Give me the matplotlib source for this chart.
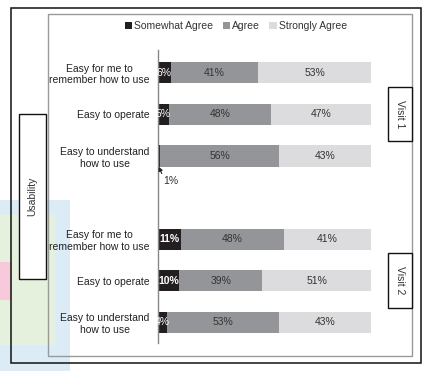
import matplotlib
matplotlib.use("Agg")
import matplotlib.pyplot as plt
from matplotlib.patches import Rectangle
import numpy as np

plt.rcParams['font.family'] = ['Liberation Sans', 'DejaVu Sans']

categories = ["Easy for me to\nremember how to use", "Easy to operate", "Easy to understand\nhow to use",
              "Easy for me to\nremember how to use", "Easy to operate", "Easy to understand\nhow to use"]
positions = [0, 1, 2, 4, 5, 6]
somewhat = [6, 5, 1, 11, 10, 4]
agree = [41, 48, 56, 48, 39, 53]
strongly = [53, 47, 43, 41, 51, 43]
series_names = ["Somewhat Agree", "Agree", "Strongly Agree"]
colors = ["#231f20", "#939598", "#dcdcde"]

W, H = 435, 371
fig = plt.figure(figsize=(W / 100, H / 100), dpi=100)

def fr(x0, y0, x1, y1, **kw):
    return Rectangle((x0 / W, 1 - y1 / H), (x1 - x0) / W, (y1 - y0) / H,
                     transform=fig.transFigure, **kw)

# faint background bleed
fig.patches.append(fr(0, 200, 70, 371, facecolor="#dcecf7", edgecolor="none", zorder=0))
fig.patches.append(fr(0, 215, 55, 345, facecolor="#e6f1dd", edgecolor="none", zorder=0))
fig.patches.append(fr(0, 262, 12, 300, facecolor="#f7cadb", edgecolor="none", zorder=0))
# frames
fig.patches.append(fr(11, 8, 421, 363, facecolor="none", edgecolor="#111111", lw=1.1, zorder=1))
fig.patches.append(fr(48, 14, 412, 356, facecolor="none", edgecolor="#999999", lw=1.0, zorder=1))
fig.patches.append(fr(19, 114, 46, 279, facecolor="white", edgecolor="#111111", lw=1.0, zorder=2))
fig.patches.append(fr(388, 87, 412, 141, facecolor="white", edgecolor="#111111", lw=1.0, zorder=2))
fig.patches.append(fr(388, 253, 412, 308, facecolor="white", edgecolor="#111111", lw=1.0, zorder=2))
fig.text(32.5 / W, 1 - 196.5 / H, "Usability", rotation=90, ha="center", va="center",
         fontsize=7.5, color="#333333", zorder=3)
fig.text(400 / W, 1 - 114 / H, "Visit 1", rotation=270, ha="center", va="center",
         fontsize=7.5, color="#333333", zorder=3)
fig.text(400 / W, 1 - 280.5 / H, "Visit 2", rotation=270, ha="center", va="center",
         fontsize=7.5, color="#333333", zorder=3)

ax = fig.add_axes([158 / W, 1 - 343 / H, 213 / W, 293 / H])
ax.patch.set_alpha(0)
ax.set_zorder(5)

pos = np.array(positions, dtype=float)
left = np.zeros(len(pos))
bars = []
for vals, name, c in zip([somewhat, agree, strongly], series_names, colors):
    b = ax.barh(pos, vals, left=left, height=0.51, color=c, label=name)
    bars.append(b)
    for p, v, l in zip(pos, vals, left):
        if name == "Somewhat Agree":
            if v >= 2:
                ax.text(l + v / 2, p, f"{v}%", ha="center", va="center", fontsize=7.5,
                        color="white", fontweight="bold" if v >= 10 else "normal")
        else:
            ax.text(l + v / 2, p, f"{v}%", ha="center", va="center", fontsize=7.5, color="#333333")
    left = left + np.array(vals)

# small value annotation with arrow
i = 2
ax.annotate(f"{somewhat[i]}%", xy=(0.3, pos[i] + 0.26), xytext=(2.3, pos[i] + 0.61),
            fontsize=7.5, color="#333333", ha="left", va="center",
            arrowprops=dict(arrowstyle="-|>", color="#222222", lw=0.8, mutation_scale=6,
                            shrinkA=0, shrinkB=0, relpos=(0.05, 0.9)))

ax.set_xlim(0, 100)
ax.set_ylim(6.5, -0.55)
ax.set_yticks(pos)
ax.set_yticklabels(categories, fontsize=7.5, color="#222222", multialignment="center")
ax.tick_params(axis="y", length=0, pad=6)
ax.set_xticks([])
for s in ["top", "right", "bottom"]:
    ax.spines[s].set_visible(False)
ax.spines["left"].set_color("#888888")
ax.spines["left"].set_linewidth(1.0)

fig.legend(handles=bars, labels=series_names, loc="center", bbox_to_anchor=(236 / W, 1 - 26 / H),
           ncol=3, frameon=False, fontsize=7.5, handlelength=0.7, handleheight=0.7,
           handletextpad=0.2, columnspacing=0.9, labelcolor="#333333")

fig.savefig("out.png", dpi=100)
